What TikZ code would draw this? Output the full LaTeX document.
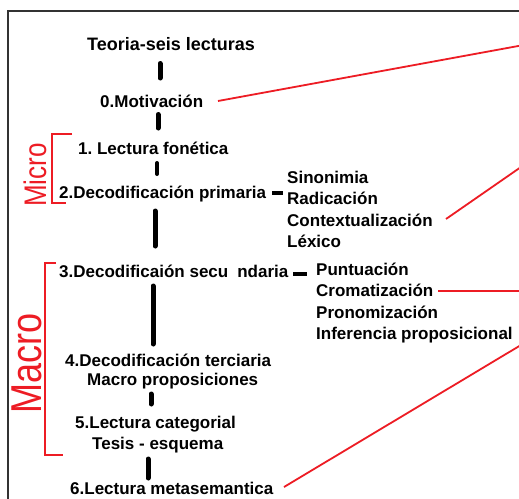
\documentclass[tikz,border=0pt]{standalone}
\usepackage{fontspec}
\setmainfont{Liberation Sans}
\usetikzlibrary{calc}
\definecolor{redline}{HTML}{ED1C24}
\definecolor{framec}{HTML}{333333}
\frenchspacing
\begin{document}
\begin{tikzpicture}[x=1pt,y=-1pt,
  lbl/.style={anchor=base west,inner sep=0pt,font=\fontsize{17}{20}\selectfont\bfseries},
  bar/.style={line width=5pt,line cap=round,black},
  dashbar/.style={line width=4pt,black},
  redl/.style={draw=redline,line width=1.8pt},
  brk/.style={draw=redline,line width=2.2pt},
  hand/.style={text=redline,inner sep=0pt,rotate=90}]
\useasboundingbox (0,0) rectangle (519,498);
\fill[white] (0,0) rectangle (519,498);
% frame
\draw[framec,line width=1.6pt] (8,500) -- (8,11) -- (521,11);

% main column
\node[lbl,font=\fontsize{18}{20}\selectfont\bfseries] (t)  at (87,50)  {Teoria-seis lecturas};
\node[lbl] (n0) at (100,107) {0.Motivación};
\node[lbl] (n1) at (78,154) {1. Lectura fonética};
\node[lbl] (n2) at (59,198) {2.Decodificación primaria};
\node[lbl] (n3) at (59,277) {3.Decodificaión secu\hspace{9pt}ndaria};
\node[lbl] (n4) at (65,366) {4.Decodificación terciaria};
\node[lbl] (n4b) at (87,385) {Macro proposiciones};
\node[lbl] (n5) at (75,428) {5.Lectura categorial};
\node[lbl] (n5b) at (92,449) {Tesis - esquema};
\node[lbl] (n6) at (70,494) {6.Lectura metasemantica};

% right lists
\node[lbl] (s1) at (287,183) {Sinonimia};
\node[lbl] (s2) at (287,204) {Radicación};
\node[lbl] (s3) at (287,226) {Contextualización};
\node[lbl] (s4) at (287,247) {Léxico};
\node[lbl] (p1) at (316,275) {Puntuación};
\node[lbl] (p2) at (316,296) {Cromatización};
\node[lbl] (p3) at (316,318) {Pronomización};
\node[lbl] (p4) at (316,339) {Inferencia proposicional};

% bar end points
\coordinate (b1a) at (160,63.5); \coordinate (b1b) at (160,78);
\coordinate (b2a) at (158,114.5); \coordinate (b2b) at (158,128);
\coordinate (b3a) at (157,163); \coordinate (b3b) at (157,174);
\coordinate (b4a) at (155,211); \coordinate (b4b) at (155,246);
\coordinate (b5a) at (153,286); \coordinate (b5b) at (153,344);
\coordinate (b6a) at (151,394); \coordinate (b6b) at (151,404);
\coordinate (b7a) at (148,459); \coordinate (b7b) at (148,478);
\draw[bar] (b1a) -- (b1b);
\draw[bar] (b2a) -- (b2b);
\draw[bar,line width=4pt] (b3a) -- (b3b);
\draw[bar] (b4a) -- (b4b);
\draw[bar] (b5a) -- (b5b);
\draw[bar] (b6a) -- (b6b);
\draw[bar] (b7a) -- (b7b);

% short dashes
\coordinate (d1a) at (272,193); \coordinate (d1b) at (283,193);
\coordinate (d2a) at (293,274); \coordinate (d2b) at (307,274);
\draw[dashbar] (d1a) -- (d1b);
\draw[dashbar] (d2a) -- (d2b);

% red brackets
\draw[brk] (72,134) -- (52,134) -- (52,203) -- (66,203);
\draw[brk] (56,263) -- (45,263) -- (45,455) -- (63,455);
\node[hand] (micro) at (35,175) {\scalebox{1}[1.2]{\fontsize{26}{26}\selectfont Micro}};
\node[hand] (macro) at (27,363) {\scalebox{1}[1.2]{\fontsize{36}{36}\selectfont Macro}};

% red lines to the right
\coordinate (r1a) at (218,101); \coordinate (r1b) at (521,45.5);
\coordinate (r2a) at (446,219); \coordinate (r2b) at (521,167);
\coordinate (r3a) at (438,291); \coordinate (r3b) at (521,291);
\coordinate (r4a) at (284,487); \coordinate (r4b) at (521,345);
\draw[redl] (r1a) -- (r1b);
\draw[redl] (r2a) -- (r2b);
\draw[redl] (r3a) -- (r3b);
\draw[redl] (r4a) -- (r4b);
\end{tikzpicture}
\end{document}
